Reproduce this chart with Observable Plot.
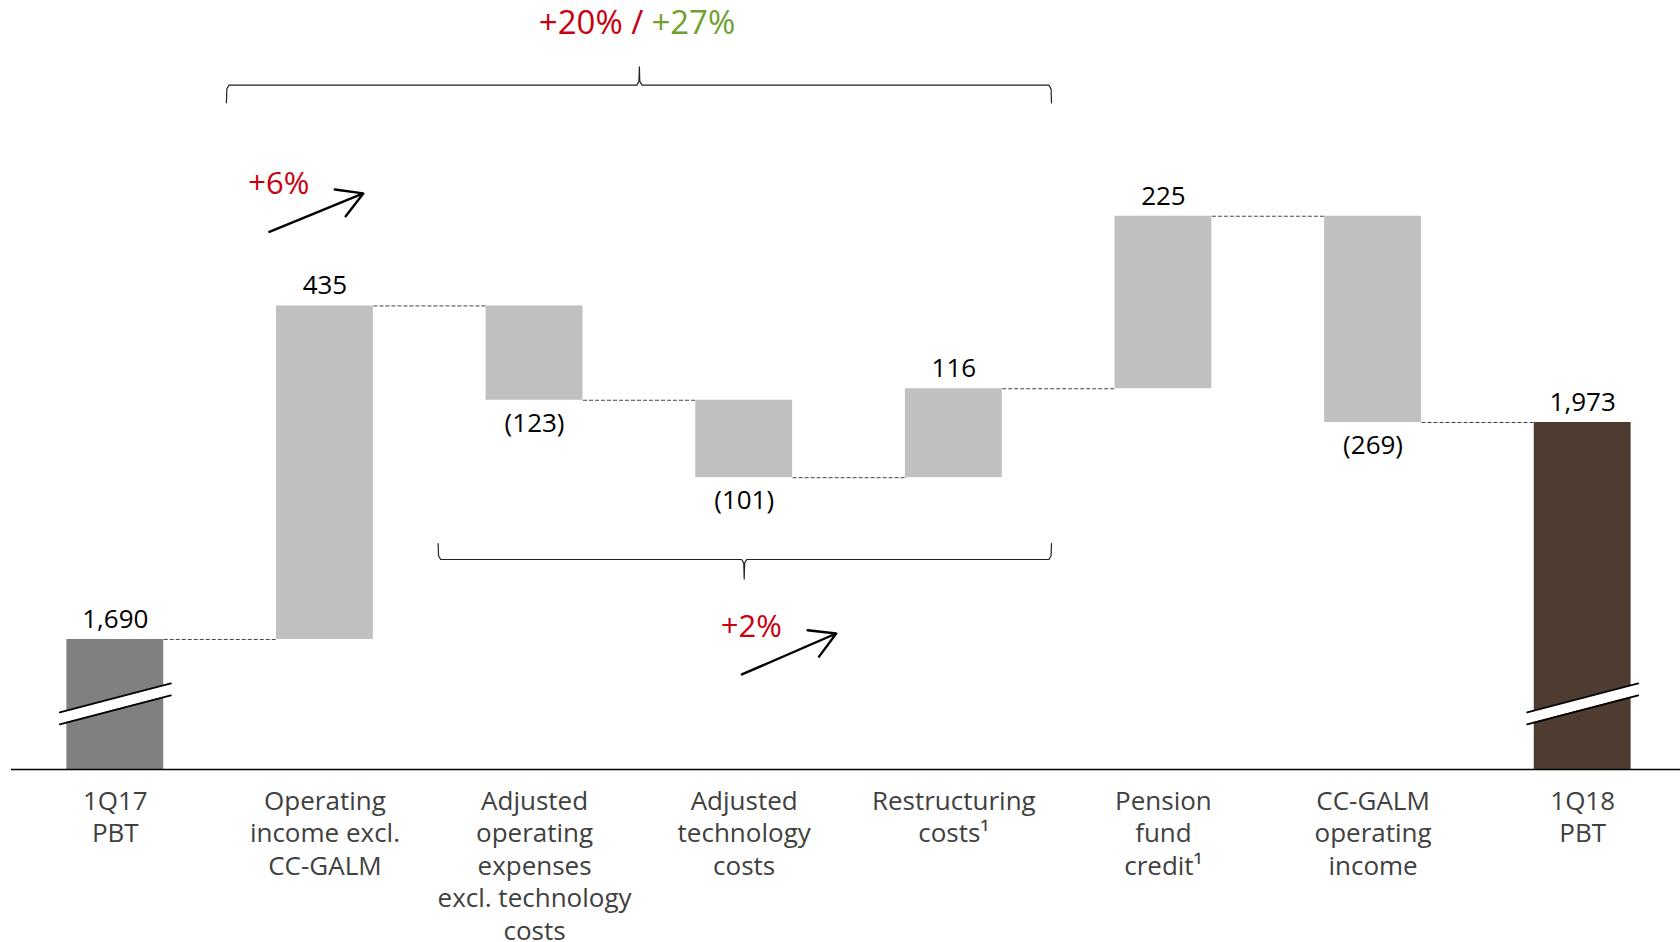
<!DOCTYPE html>
<html>
<head>
<meta charset="utf-8">
<script src="https://cdn.jsdelivr.net/npm/d3@7"></script>
<script src="https://cdn.jsdelivr.net/npm/@observablehq/plot@0.6"></script>
<style>
  html, body { margin: 0; padding: 0; background: #fff; overflow: hidden; }
  #chart svg { display: block; }
</style>
</head>
<body>
<div id="chart"></div>
<script>
// ---- Data ----
const categories = [
  "1Q17\nPBT",
  "Operating\nincome excl.\nCC-GALM",
  "Adjusted\noperating\nexpenses\nexcl. technology\ncosts",
  "Adjusted\ntechnology\ncosts",
  "Restructuring\ncosts\u00b9",
  "Pension\nfund\ncredit\u00b9",
  "CC-GALM\noperating\nincome",
  "1Q18\nPBT"
];
const values = [1690, 435, -123, -101, 116, 225, -269, 1973];
const kinds = ["start", "delta", "delta", "delta", "delta", "delta", "delta", "end"];
const valueLabels = ["1,690", "435", "(123)", "(101)", "116", "225", "(269)", "1,973"];

// Annotation texts
const growthTexts = ["+6%", "+2%"];
const headlineRed = "+20% /";
const headlineGreen = "+27%";

// ---- Style / layout ----
const colors = { start: "#808080", delta: "#c0c0c0", end: "#4e3c31" };
const red = "#c8000f";
const green = "#72a02e";
const axisFloor = 1520.4;   // value at the (broken) axis line
const yTop = 2523.4;
const hw = 0.231;           // half bar width in category units
const font = "'Open Sans', 'Noto Sans', sans-serif";

// ---- Waterfall rows ----
let run = 0;
const rows = values.map((v, i) => {
  const kind = kinds[i];
  let y1, y2;
  if (kind === "delta") { y1 = run; y2 = run + v; run += v; }
  else { y1 = axisFloor; y2 = v; run = v; }
  return {
    i, cat: categories[i], kind, fill: colors[kind],
    bottom: Math.min(y1, y2), top: Math.max(y1, y2),
    level: run, neg: v < 0, label: valueLabels[i]
  };
});

const connectors = rows.slice(0, -1).map((r, k) => ({ x1: r.i + hw, x2: rows[k + 1].i - hw, y: r.level }));

// Axis-break marks on the total bars
const breakHalf = 0.265, breakMid = 1606, breakTilt = 18.9, breakGap = 7.8;
const breakPts = rows.filter(r => r.kind !== "delta").flatMap(r => [
  { z: r.i, x: r.i - breakHalf, lo: breakMid - breakTilt - breakGap, hi: breakMid - breakTilt + breakGap },
  { z: r.i, x: r.i + breakHalf, lo: breakMid + breakTilt - breakGap, hi: breakMid + breakTilt + breakGap }
]);

// Braces
function brace(x1, x2, xc, yLine, yEnd, ySpike) {
  const s = Math.sign(yLine - yEnd);   // +1 if line above ends
  const e = 5 * s;
  return [
    [x1, yEnd], [x1 + 0.002, yLine - e], [x1 + 0.012, yLine],
    [xc - 0.012, yLine], [xc - 0.002, yLine + e], [xc, ySpike],
    [xc + 0.002, yLine + e], [xc + 0.012, yLine],
    [x2 - 0.012, yLine], [x2 - 0.002, yLine - e], [x2, yEnd]
  ].map(([x, y]) => ({ x, y }));
}
const topBrace = brace(1 - 0.47, 4 + 0.466, 2.5, 2413, 2390, 2437);
const bottomBrace = brace(2 - 0.46, 4 + 0.466, 3, 1794.3, 1815.2, 1768.8);

const growthLabels = [
  { text: growthTexts[0], x: 0.78, y: 2283.5 },
  { text: growthTexts[1], x: 3.034, y: 1705.6 }
];
const arrows = [
  { x1: 0.735, y1: 2221.6, x2: 1.183, y2: 2271.8 },
  { x1: 2.989, y1: 1644.4, x2: 3.439, y2: 1697.8 }
];

const chart = Plot.plot({
  width: 1680,
  height: 942,
  marginLeft: 11, marginRight: 0, marginTop: 0, marginBottom: 0,
  style: { fontFamily: font, background: "#fff" },
  x: { type: "linear", domain: [-0.5, 7.5], range: [10, 1687], axis: null },
  y: { type: "linear", domain: [axisFloor, yTop], range: [769, 0], axis: null },
  marks: [
    Plot.rect(rows, { x1: d => d.i - hw, x2: d => d.i + hw, y1: "bottom", y2: "top", fill: "fill" }),
    Plot.areaY(breakPts, { x: "x", y1: "lo", y2: "hi", z: "z", fill: "#fff" }),
    Plot.line(breakPts, { x: "x", y: "lo", z: "z", stroke: "#000", strokeWidth: 1.8 }),
    Plot.line(breakPts, { x: "x", y: "hi", z: "z", stroke: "#000", strokeWidth: 1.8 }),
    Plot.link(connectors, { x1: "x1", x2: "x2", y1: "y", y2: "y", stroke: "#444", strokeWidth: 1, strokeDasharray: "4,2" }),
    Plot.ruleY([axisFloor], { stroke: "#000", strokeWidth: 1.6 }),
    Plot.text(rows.filter(d => !d.neg), { x: "i", y: "top", text: "label", dy: -20, fontSize: 26, fill: "#000" }),
    Plot.text(rows.filter(d => d.neg), { x: "i", y: "bottom", text: "label", dy: 23, fontSize: 26, fill: "#000" }),
    Plot.text(rows, { x: "i", y: d => axisFloor, text: "cat", lineAnchor: "top", dy: 17, lineHeight: 1.25, fontSize: 26, fill: "#404040" }),
    Plot.line(topBrace, { x: "x", y: "y", stroke: "#222", strokeWidth: 1.2 }),
    Plot.line(bottomBrace, { x: "x", y: "y", stroke: "#222", strokeWidth: 1.2 }),
    Plot.text(growthLabels, { x: "x", y: "y", text: "text", fontSize: 31, fill: red }),
    Plot.arrow(arrows, { x1: "x1", y1: "y1", x2: "x2", y2: "y2", stroke: "#000", strokeWidth: 2.4, headLength: 18 }),
    Plot.text([headlineRed], { x: () => 2.5, y: () => 2493, text: d => d, textAnchor: "end", dx: 4, fontSize: 33, fill: red }),
    Plot.text([headlineGreen], { x: () => 2.5, y: () => 2493, text: d => d, textAnchor: "start", dx: 12, fontSize: 33, fill: green })
  ]
});
document.getElementById("chart").appendChild(chart);
</script>
</body>
</html>
